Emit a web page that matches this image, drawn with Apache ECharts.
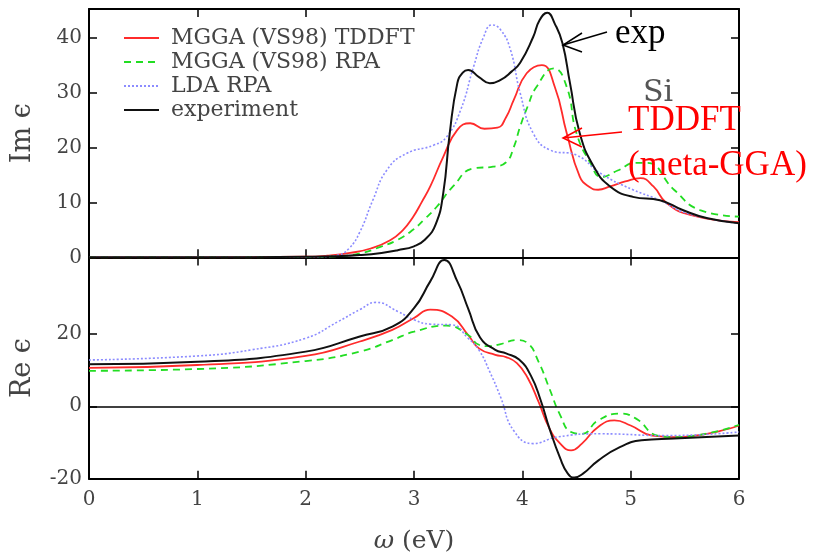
<!DOCTYPE html>
<html><head><meta charset="utf-8">
<script src="https://cdn.jsdelivr.net/npm/echarts@6/dist/echarts.min.js"></script>
<style>html,body{margin:0;padding:0;background:#fff}#c{width:817px;height:557px}</style>
</head><body><div id="c"></div>
<script>
// ---- tick labels ----
const xTicks = [0, 1, 2, 3, 4, 5, 6];
const imTicks = [0, 10, 20, 30, 40];
const reTicks = [-20, 0, 20];
const seriesNames = ['MGGA (VS98) TDDFT', 'MGGA (VS98) RPA', 'LDA RPA', 'experiment'];

// ---- Im eps (top panel) ----
const imTddftW = [0, 1, 2, 2.2, 2.41, 2.6, 2.78, 2.9, 2.99, 3.07, 3.15, 3.27, 3.4, 3.52, 3.65, 3.77, 3.85, 3.92, 4.04, 4.18, 4.3, 4.41, 4.53, 4.62, 4.7, 4.81, 4.95, 5.09, 5.21, 5.33, 5.55, 6.0];
const imTddft  = [0, 0, 0.1, 0.3, 0.8, 1.6, 3.1, 5.0, 7.3, 10, 12.9, 18.3, 23.2, 24.4, 23.4, 23.6, 25.5, 28.6, 33.5, 35, 31, 22.6, 14.7, 12.8, 12.3, 12.9, 13.8, 14.4, 12.9, 9.9, 7.7, 6.4];

const imRpaW = [0, 1, 2, 2.3, 2.5, 2.69, 2.85, 2.99, 3.1, 3.21, 3.36, 3.55, 3.73, 3.85, 3.92, 3.98, 4.05, 4.13, 4.29, 4.41, 4.5, 4.63, 4.73, 4.88, 5.05, 5.15, 5.4, 5.64, 6.0];
const imRpa  = [0, 0, 0.05, 0.2, 0.7, 1.9, 3.2, 5.0, 7.0, 9.2, 12.9, 16.2, 16.5, 17.3, 20, 23.8, 27.5, 31, 34.4, 31, 22.6, 17.1, 14.6, 15.8, 17.2, 17.2, 12.3, 8.6, 7.4];

const imLdaW = [0, 1, 2, 2.2, 2.3, 2.4, 2.5, 2.62, 2.75, 2.93, 3.18, 3.3, 3.43, 3.55, 3.64, 3.72, 3.8, 3.89, 3.98, 4.1, 4.26, 4.5, 4.72, 5.02, 5.27, 5.52, 6.0];
const imLda  = [0, 0, 0.05, 0.15, 0.4, 1.6, 4.6, 10.4, 15.9, 18.9, 20.4, 21.9, 26.8, 34.7, 40, 42.3, 41.4, 37.8, 29.9, 22.6, 19.5, 18.6, 15.3, 12.3, 10.4, 8.0, 6.2];

const imExpW = [0, 1, 2, 2.3, 2.5, 2.7, 2.85, 3.0, 3.1, 3.2, 3.27, 3.33, 3.4, 3.45, 3.5, 3.6, 3.7, 3.8, 3.9, 3.98, 4.1, 4.16, 4.23, 4.3, 4.37, 4.44, 4.53, 4.66, 4.81, 5.02, 5.27, 5.48, 5.71, 6.0];
const imExp  = [0, 0, 0.1, 0.2, 0.4, 0.8, 1.3, 2.0, 3.2, 6.0, 11.7, 22.6, 31.7, 33.6, 34.1, 32.8, 31.7, 32.3, 33.8, 35.4, 40.1, 43.2, 44.5, 42.5, 39, 31.7, 22.6, 16.5, 12.9, 11.0, 10.4, 8.6, 7.1, 6.2];

// ---- Re eps (bottom panel) ----
const reTddftW = [0, 1, 2, 2.5, 2.8, 3.0, 3.15, 3.35, 3.5, 3.6, 3.75, 3.85, 3.95, 4.05, 4.15, 4.25, 4.35, 4.45, 4.55, 4.7, 4.85, 5.0, 5.2, 5.4, 6.0];
const reTddft  = [10.6, 11.4, 13.9, 17.9, 21.1, 24.4, 26.7, 24.8, 19.7, 16.0, 14.2, 13.6, 11.9, 7.8, 1.2, -6.1, -10.3, -12.2, -10.3, -5.7, -3.9, -5.3, -8.1, -8.5, -5.3];

const reRpaW = [0, 1, 2, 2.5, 2.8, 3.0, 3.3, 3.5, 3.6, 3.7, 3.8, 3.95, 4.05, 4.15, 4.25, 4.35, 4.45, 4.55, 4.7, 4.9, 5.05, 5.25, 5.4, 6.0];
const reRpa  = [9.8, 10.3, 12.5, 15.1, 18.3, 20.6, 22.3, 19.7, 17.0, 16.6, 17.2, 18.3, 17.4, 12.3, 4.9, -2.5, -7.1, -7.6, -3.9, -2.0, -3.4, -8.1, -8.5, -5.1];

const reLdaW = [0, 1, 1.5, 2, 2.3, 2.5, 2.65, 2.85, 3.0, 3.15, 3.35, 3.5, 3.6, 3.7, 3.8, 3.92, 4.1, 4.32, 4.72, 5.33, 6.0];
const reLda  = [12.8, 13.9, 15.6, 18.8, 23.4, 26.7, 28.7, 26.2, 23.9, 22.7, 22.5, 18.8, 15.5, 9.5, 2.5, -6.7, -10.3, -8.5, -7.6, -8.1, -7.1];

const reExpW = [0, 1, 2, 2.5, 2.8, 3.0, 3.15, 3.28, 3.4, 3.5, 3.61, 3.75, 3.85, 3.97, 4.08, 4.17, 4.25, 4.35, 4.42, 4.48, 4.56, 4.7, 4.9, 5.1, 5.4, 6.0];
const reExp  = [11.6, 12.3, 15.1, 19.3, 22.0, 27.1, 34.5, 40.4, 34.5, 27, 19.0, 15.6, 14.6, 12.9, 8.4, 1.6, -6.1, -14.4, -18.6, -19.7, -18.6, -15.0, -11.3, -9.4, -8.9, -8.1];

function pairs(xs, ys) { return xs.map((x, i) => [x, ys[i]]); }

const serif = '"DejaVu Serif", serif';
const grey = '#444';
const colors = ['#ff2b2b', '#22dd22', '#8c8cff', '#111111'];
const styles = [
  { width: 1.8, type: 'solid' },
  { width: 1.8, type: [7, 5] },
  { width: 1.6, type: [2, 2] },
  { width: 2.0, type: 'solid' }
];

function mkSeries(name, idx, data, axis) {
  return {
    name: name, type: 'line', data: data,
    xAxisIndex: axis, yAxisIndex: axis,
    showSymbol: false, symbol: 'none',
    smooth: 0.5,
    itemStyle: { color: colors[idx] },
    lineStyle: { color: colors[idx], width: styles[idx].width, type: styles[idx].type },
    z: idx === 3 ? 5 : 3,
    animation: false
  };
}

const axLine = { show: true, onZero: false, lineStyle: { color: '#000', width: 2 } };
const axTick = { show: true, inside: true, length: 8, lineStyle: { color: '#000', width: 1.5 } };

function xAx(grid, pos, labels) {
  return {
    type: 'value', gridIndex: grid, position: pos, min: 0, max: 6, interval: 1,
    axisLine: axLine, axisTick: axTick, splitLine: { show: false },
    axisLabel: labels ? { show: true, margin: 11, color: grey, fontFamily: serif, fontSize: 20 } : { show: false }
  };
}
function yAx(grid, pos, min, max, ticks, labels) {
  return {
    type: 'value', gridIndex: grid, position: pos, min: min, max: max, interval: 10,
    axisLine: axLine,
    axisTick: Object.assign({}, axTick, { customValues: ticks }),
    splitLine: { show: false },
    axisLabel: labels ? { show: true, customValues: ticks, margin: 7, color: grey, fontFamily: serif, fontSize: 20 } : { show: false }
  };
}

const chart = echarts.init(document.getElementById('c'), null, { renderer: 'canvas' });

const series = [
  mkSeries(seriesNames[0], 0, pairs(imTddftW, imTddft), 0),
  mkSeries(seriesNames[1], 1, pairs(imRpaW, imRpa), 0),
  mkSeries(seriesNames[2], 2, pairs(imLdaW, imLda), 0),
  mkSeries(seriesNames[3], 3, pairs(imExpW, imExp), 0),
  mkSeries(seriesNames[0], 0, pairs(reTddftW, reTddft), 2),
  mkSeries(seriesNames[1], 1, pairs(reRpaW, reRpa), 2),
  mkSeries(seriesNames[2], 2, pairs(reLdaW, reLda), 2),
  mkSeries(seriesNames[3], 3, pairs(reExpW, reExp), 2)
];
series[7].markLine = {
  silent: true, symbol: 'none', animation: false,
  label: { show: false },
  lineStyle: { color: '#000', width: 1.5, type: 'solid' },
  data: [{ yAxis: 0 }]
};

chart.setOption({
  animation: false,
  backgroundColor: '#fff',
  grid: [
    { left: 89, right: 78, top: 9, bottom: 299.7, show: false, outerBoundsMode: 'none', containLabel: false },
    { left: 89, right: 78, top: 257.5, bottom: 78.3, show: false, outerBoundsMode: 'none', containLabel: false }
  ],
  xAxis: [
    xAx(0, 'bottom', false), xAx(0, 'top', false),
    Object.assign(xAx(1, 'bottom', true), {
      name: '{w|ω} (eV)', nameLocation: 'middle', nameGap: 50,
      nameTextStyle: { color: grey, fontFamily: serif, fontSize: 25, rich: { w: { fontStyle: 'italic', fontFamily: serif, fontSize: 25, color: grey } } }
    }),
    xAx(1, 'top', false)
  ],
  yAxis: [
    Object.assign(yAx(0, 'left', 0, 45.2, imTicks, true), {
      name: 'Im ϵ', nameLocation: 'middle', nameGap: 53,
      nameTextStyle: { color: grey, fontFamily: serif, fontSize: 27 }
    }),
    yAx(0, 'right', 0, 45.2, imTicks, false),
    Object.assign(yAx(1, 'left', -20, 41.1, reTicks, true), {
      name: 'Re ϵ', nameLocation: 'middle', nameGap: 53,
      nameTextStyle: { color: grey, fontFamily: serif, fontSize: 27 }
    }),
    yAx(1, 'right', -20, 41.1, reTicks, false)
  ],
  legend: {
    data: seriesNames, orient: 'vertical', left: 118, top: 21,
    itemWidth: 35, itemHeight: 12, itemGap: 0, selectedMode: false,
    itemStyle: { opacity: 0 },
    textStyle: { color: grey, fontFamily: serif, fontSize: 22, lineHeight: 24, padding: [0, 0, 0, 7] }
  },
  series: series,
  graphic: [
    { type: 'text', left: 615, top: 16, style: { text: 'exp', font: '35px "Liberation Serif"', fill: '#000' }, z: 100 },
    { type: 'polyline', shape: { points: [[607, 32], [563, 45]] }, style: { stroke: '#000', lineWidth: 1.5, fill: null }, z: 100 },
    { type: 'polyline', shape: { points: [[582, 33], [563, 45], [582, 52]] }, style: { stroke: '#000', lineWidth: 1.5, fill: null }, z: 100 },
    { type: 'text', left: 643, top: 78, style: { text: 'Si', font: '30px ' + serif, fill: '#555' }, z: 100 },
    { type: 'text', left: 628, top: 103, style: { text: 'TDDFT', font: '35px "Liberation Serif"', fill: '#ff0000' }, z: 100 },
    { type: 'text', left: 628, top: 148, style: { text: '(meta-GGA)', font: '35px "Liberation Serif"', fill: '#ff0000' }, z: 100 },
    { type: 'polyline', shape: { points: [[622, 132], [563, 138]] }, style: { stroke: '#ff0000', lineWidth: 1.5, fill: null }, z: 100 },
    { type: 'polyline', shape: { points: [[582, 128], [563, 138], [582, 147]] }, style: { stroke: '#ff0000', lineWidth: 1.5, fill: null }, z: 100 }
  ]
});
</script>
</body></html>
